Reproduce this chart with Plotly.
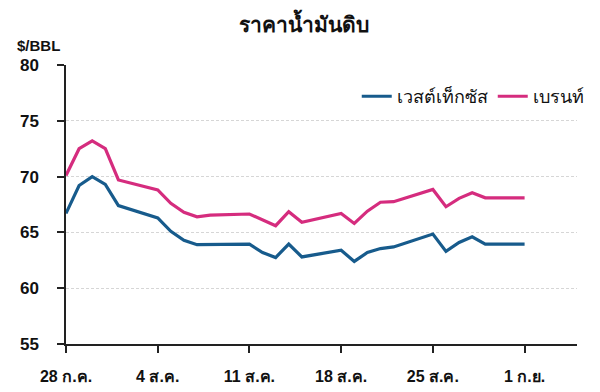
import plotly.graph_objects as go

dates = ["2025-07-28", "2025-07-29", "2025-07-30", "2025-07-31", "2025-08-01",
         "2025-08-04", "2025-08-05", "2025-08-06", "2025-08-07", "2025-08-08",
         "2025-08-11", "2025-08-12", "2025-08-13", "2025-08-14", "2025-08-15",
         "2025-08-18", "2025-08-19", "2025-08-20", "2025-08-21", "2025-08-22",
         "2025-08-25", "2025-08-26", "2025-08-27", "2025-08-28", "2025-08-29",
         "2025-09-01"]
wti = [66.7, 69.2, 70.0, 69.3, 67.4,
       66.3, 65.1, 64.3, 63.9, 63.9,
       63.95, 63.2, 62.75, 63.95, 62.8,
       63.4, 62.4, 63.2, 63.55, 63.7,
       64.85, 63.3, 64.1, 64.6, 63.95,
       63.95]
brent = [70.1, 72.5, 73.2, 72.5, 69.7,
         68.8, 67.6, 66.8, 66.4, 66.55,
         66.65, 66.1, 65.6, 66.85, 65.9,
         66.7, 65.8, 66.9, 67.7, 67.75,
         68.85, 67.3, 68.05, 68.55, 68.1,
         68.1]
tick_dates = ["2025-07-28", "2025-08-04", "2025-08-11", "2025-08-18", "2025-08-25", "2025-09-01"]
tick_labels = ["28 ก.ค.", "4 ส.ค.", "11 ส.ค.", "18 ส.ค.", "25 ส.ค.", "1 ก.ย."]
y_ticks = [55, 60, 65, 70, 75, 80]

BLUE = "#175b8c"
PINK = "#d52c7e"
FONT = "Liberation Sans, Arial, sans-serif"
TXT = "#111111"

fig = go.Figure()
fig.add_trace(go.Scatter(x=dates, y=wti, mode="lines", name="เวสต์เท็กซัส",
                         line=dict(color=BLUE, width=3.2)))
fig.add_trace(go.Scatter(x=dates, y=brent, mode="lines", name="เบรนท์",
                         line=dict(color=PINK, width=3.2)))

W, H = 592, 384
fig.update_layout(
    width=W, height=H,
    margin=dict(l=58, r=23, t=57, b=48, autoexpand=False),
    paper_bgcolor="white", plot_bgcolor="white",
    font=dict(family=FONT, color=TXT, size=16),
    title=dict(text="<b>ราคาน้ำมันดิบ</b>", x=0.5, xanchor="center",
               y=1 - 17 / H, yanchor="middle",
               font=dict(size=21, color=TXT)),
    showlegend=True,
    legend=dict(orientation="h", x=1.023, xanchor="right", y=0.887, yanchor="middle",
                font=dict(size=18, color=TXT), bgcolor="rgba(0,0,0,0)",
                tracegroupgap=0),
    xaxis=dict(type="date", range=["2025-07-28", "2025-09-05"],
               tickvals=tick_dates, ticktext=tick_labels,
               showgrid=False, showline=True, linecolor="#222222", linewidth=1.5,
               ticks="outside", ticklen=7, tickcolor="#222222", tickwidth=1.5,
               ticklabelstandoff=10,
               tickfont=dict(size=16, color=TXT, weight="bold"), zeroline=False),
    yaxis=dict(range=[55, 80], tickvals=y_ticks,
               showgrid=True, gridcolor="#d6d6d6", griddash="3px,2px", gridwidth=1,
               showline=True, linecolor="#222222", linewidth=1.5,
               ticks="outside", ticklen=7, tickcolor="#222222", tickwidth=1.5,
               ticklabelstandoff=15,
               tickfont=dict(size=17, color=TXT, weight="bold"), zeroline=False),
    annotations=[dict(text="<b>$/BBL</b>", xref="paper", yref="paper",
                      x=-51 / 511, y=1 + 20 / 279,
                      xanchor="left", yanchor="middle", showarrow=False,
                      font=dict(size=15, color=TXT))],
)

fig.write_html("out.html")
